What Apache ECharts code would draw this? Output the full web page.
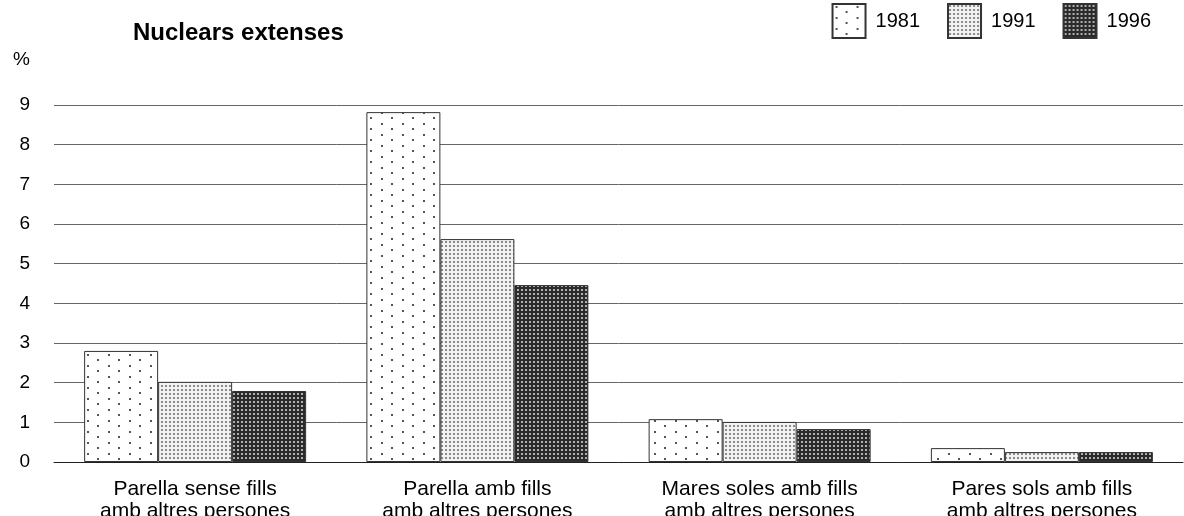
<!DOCTYPE html>
<html>
<head>
<meta charset="utf-8">
<script src="https://cdn.jsdelivr.net/npm/echarts@6/dist/echarts.min.js"></script>
<style>
  html, body { margin: 0; padding: 0; background: #fff; }
  #chart { width: 1184px; height: 516px; }
</style>
</head>
<body>
<div id="chart"></div>
<script>
const categories = [
    'Parella sense fills\namb altres persones',
    'Parella amb fills\namb altres persones',
    'Mares soles amb fills\namb altres persones',
    'Pares sols amb fills\namb altres persones'
];
const years = ['1981', '1991', '1996'];
const values1981 = [2.8, 8.82, 1.08, 0.35];
const values1991 = [2.02, 5.62, 1.01, 0.25];
const values1996 = [1.79, 4.46, 0.83, 0.25];
const yTicks = [0, 1, 2, 3, 4, 5, 6, 7, 8, 9];

// petites textures pour les barres
const makePattern = (w, h, bg, dots) => {
    let c = document.createElement('canvas');
    c.width = w;
    c.height = h;
    let ctx = c.getContext('2d');
    ctx.fillStyle = bg;
    ctx.fillRect(0, 0, w, h);
    dots.forEach(d => {
        ctx.fillStyle = d[4];
        ctx.fillRect(d[0], d[1], d[2], d[3]);
    });
    return { image: c, repeat: 'repeat' };
};

const pat1981 = makePattern(21, 11, '#ffffff', [
    [3, 2, 2, 2, '#555'],
    [13, 7, 2, 2, '#555']
]);
const pat1991 = makePattern(4, 4, '#f2f2f2', [
    [1, 1, 2, 2, '#8a8a8a']
]);
const pat1996 = makePattern(4, 4, '#2b2b2b', [
    [1, 1, 2, 2, '#b0b0b0']
]);
const patterns = [pat1981, pat1991, pat1996];
const seriesValues = [values1981, values1991, values1996];

const font = 'Liberation Sans, Arial, sans-serif';

const chartOption = {
    animation: false,
    textStyle: { fontFamily: font },
    title: {
        text: 'Nuclears extenses',
        left: 128,
        top: 16,
        textStyle: { fontSize: 24, fontWeight: 'bold', color: '#000', fontFamily: font }
    },
    legend: {
        right: 33,
        top: 3,
        padding: 0,
        itemWidth: 33,
        itemHeight: 34,
        itemGap: 27,
        icon: 'rect',
        textStyle: { fontSize: 20, color: '#000', fontFamily: font, padding: [0, 0, 0, 5] },
        data: years
    },
    grid: {
        left: 54, right: 1, top: 105, bottom: 54,
        containLabel: false,
        outerBoundsMode: 'none'
    },
    xAxis: {
        type: 'category',
        data: categories,
        axisTick: { show: false },
        axisLine: { show: true, lineStyle: { color: '#222', width: 1 } },
        axisLabel: {
            color: '#000',
            fontSize: 21,
            lineHeight: 22,
            margin: 16,
            fontFamily: font
        }
    },
    yAxis: {
        type: 'value',
        min: 0,
        max: 9,
        interval: 1,
        name: '%',
        nameLocation: 'end',
        nameGap: 36,
        nameTextStyle: { color: '#000', fontSize: 19, align: 'right', padding: [0, 24, 0, 0], fontFamily: font },
        axisLine: { show: false },
        axisTick: { show: false },
        axisLabel: {
            color: '#000',
            fontSize: 19,
            margin: 24,
            fontFamily: font,
            formatter: v => yTicks.includes(v) ? String(v) : ''
        },
        splitLine: { show: true, lineStyle: { color: '#666', width: 1 } }
    },
    series: years.map((y, i) => ({
        name: y,
        type: 'bar',
        data: seriesValues[i],
        barWidth: 74,
        barGap: '0%',
        itemStyle: {
            color: patterns[i],
            borderColor: '#333',
            borderWidth: 1
        }
    }))
};

let myChart = echarts.init(document.getElementById('chart'));
myChart.setOption(chartOption);
</script>
</body>
</html>
